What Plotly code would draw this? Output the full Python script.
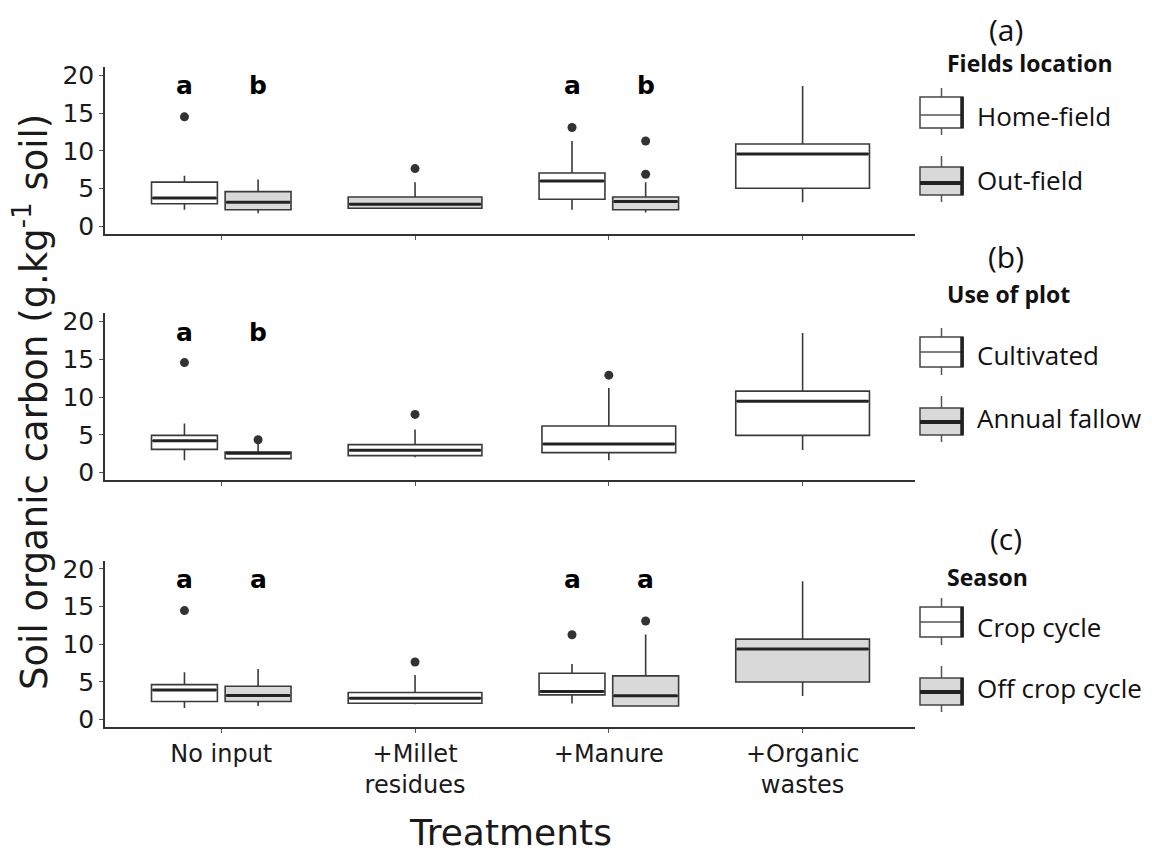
import plotly.graph_objects as go

# ---------------- data ----------------
categories = ["No input", "+Millet<br>residues", "+Manure", "+Organic<br>wastes"]
y_ticks = [0, 5, 10, 15, 20]

# Panel (a): Fields location
a_cat = [0, 0, 1, 2, 2, 3]
a_group = ["Home-field", "Out-field", "All", "Home-field", "Out-field", "All"]
a_low = [2.2, 1.75, 2.3, 2.2, 1.85, 3.2]
a_q1 = [3.0, 2.2, 2.4, 3.6, 2.2, 5.05]
a_med = [3.75, 3.2, 2.95, 6.0, 3.3, 9.6]
a_q3 = [5.86, 4.6, 3.9, 7.08, 3.9, 10.9]
a_high = [6.7, 6.2, 5.85, 11.3, 5.85, 18.6]
a_out = [[14.5], [], [7.65], [13.1], [6.9, 11.3], []]
a_letters = ["a", "b", "", "a", "b", ""]

# Panel (b): Use of plot
b_cat = [0, 0, 1, 2, 3]
b_group = ["Cultivated", "Annual fallow", "All", "All", "All"]
b_low = [1.63, 1.85, 2.03, 1.63, 3.0]
b_q1 = [3.08, 1.85, 2.25, 2.64, 4.93]
b_med = [4.22, 2.56, 2.95, 3.78, 9.46]
b_q3 = [4.93, 2.72, 3.7, 6.16, 10.78]
b_high = [6.5, 3.9, 5.7, 11.2, 18.47]
b_out = [[14.56], [4.35], [7.7], [12.9], []]
b_letters = ["a", "b", "", "", ""]

# Panel (c): Season
c_cat = [0, 0, 1, 2, 2, 3]
c_group = ["Crop cycle", "Off crop cycle", "All", "Crop cycle", "Off crop cycle", "All"]
c_low = [1.54, 1.8, 2.03, 2.12, 1.8, 3.13]
c_q1 = [2.38, 2.38, 2.16, 3.27, 1.8, 4.98]
c_med = [3.92, 3.18, 2.83, 3.71, 3.14, 9.35]
c_q3 = [4.63, 4.41, 3.58, 6.14, 5.79, 10.67]
c_high = [6.26, 6.7, 5.9, 7.38, 11.3, 18.36]
c_out = [[14.47], [], [7.63], [11.26], [13.09], []]
c_letters = ["a", "a", "", "a", "a", ""]

panel_tags = ["(a)", "(b)", "(c)"]
legend_titles = ["Fields location", "Use of plot", "Season"]
legend_items = [["Home-field", "Out-field"], ["Cultivated", "Annual fallow"], ["Crop cycle", "Off crop cycle"]]

# ---------------- styles ----------------
WHITE = "white"
GREY = "#d9d9d9"
LINE = "#3a3a3a"
a_fill = [WHITE, GREY, GREY, WHITE, GREY, WHITE]
b_fill = [WHITE, WHITE, WHITE, WHITE, WHITE]
c_fill = [WHITE, GREY, WHITE, WHITE, GREY, GREY]

BODY = 8  # default page margin of the html body
W, H = 1152 - BODY, 854 - BODY
ML, MT = 105 - BODY, 67 - BODY
PW, PH = 810, 660
MR, MB = W - ML - PW, H - MT - PH


def px(x, y):
    """page pixel -> paper coordinates"""
    return (x - BODY - ML) / PW, 1 - (y - BODY - MT) / PH


group_offset = {"first": -0.19, "second": 0.19}
width_grouped, width_single = 0.34, 0.69

panels = [
    (a_cat, a_group, a_low, a_q1, a_med, a_q3, a_high, a_out, a_letters, a_fill),
    (b_cat, b_group, b_low, b_q1, b_med, b_q3, b_high, b_out, b_letters, b_fill),
    (c_cat, c_group, c_low, c_q1, c_med, c_q3, c_high, c_out, c_letters, c_fill),
]

fig = go.Figure()
annotations = []
shapes = []

for p, (cat, grp, lo, q1, med, q3, hi, outs, letters, fills) in enumerate(panels):
    xa = "x" if p == 0 else f"x{p+1}"
    ya = "y" if p == 0 else f"y{p+1}"
    items = legend_items[p]
    med_x, med_y, out_x, out_y = [], [], [], []
    for i in range(len(cat)):
        if grp[i] == "All":
            off, w = 0.0, width_single
        else:
            off = group_offset["first"] if grp[i] == items[0] else group_offset["second"]
            w = width_grouped
        pos = cat[i] + off
        fig.add_trace(go.Box(
            x=[pos], q1=[q1[i]], median=[med[i]], q3=[q3[i]],
            lowerfence=[lo[i]], upperfence=[hi[i]],
            width=w, whiskerwidth=0, boxpoints=False,
            fillcolor=fills[i], line=dict(color=LINE, width=1.6),
            xaxis=xa, yaxis=ya, showlegend=False, hoverinfo="skip"))
        med_x += [pos - w / 2 + 0.006, pos + w / 2 - 0.006, None]
        med_y += [med[i], med[i], None]
        for o in outs[i]:
            out_x.append(pos)
            out_y.append(o)
        if letters[i]:
            annotations.append(dict(
                x=pos, y=18.6, xref=xa, yref=ya, text=f"<b>{letters[i]}</b>",
                xanchor="center", yanchor="middle",
                showarrow=False, font=dict(family="DejaVu Sans", size=25, color="black")))
    fig.add_trace(go.Scatter(x=med_x, y=med_y, mode="lines",
                             line=dict(color="#222222", width=3),
                             xaxis=xa, yaxis=ya, showlegend=False, hoverinfo="skip"))
    fig.add_trace(go.Scatter(x=out_x, y=out_y, mode="markers",
                             marker=dict(color="#333333", size=9),
                             xaxis=xa, yaxis=ya, showlegend=False, hoverinfo="skip"))

# axes
domains = [[0.747, 1.0], [0.374, 0.627], [0.0, 0.252]]
axis_common = dict(showline=True, linecolor="#333333", linewidth=1.5, ticks="outside",
                   ticklen=4, tickcolor="#555555", showgrid=False, zeroline=False)
for p in range(3):
    xk = "xaxis" if p == 0 else f"xaxis{p+1}"
    yk = "yaxis" if p == 0 else f"yaxis{p+1}"
    ya = "y" if p == 0 else f"y{p+1}"
    xa = "x" if p == 0 else f"x{p+1}"
    fig.update_layout(**{
        xk: dict(axis_common, domain=[0, 1], anchor=ya, range=[-0.6, 3.58],
                 tickvals=list(range(len(categories))), ticktext=categories,
                 showticklabels=(p == 2),
                 tickfont=dict(family="DejaVu Sans", size=24, color="#1a1a1a")),
        yk: dict(axis_common, domain=domains[p], anchor=xa, range=[-1, 21.1],
                 tickvals=y_ticks, ticktext=[str(t) for t in y_ticks],
                 tickfont=dict(family="DejaVu Sans", size=25, color="#1a1a1a")),
    })

# axis titles
tx, ty = px(31, 402)
annotations.append(dict(x=tx, y=ty, xref="paper", yref="paper", showarrow=False,
                        xanchor="center", yanchor="middle",
                        text="Soil organic carbon (g.kg<sup>-1</sup> soil)", textangle=-90,
                        font=dict(family="DejaVu Sans", size=37, color="#1a1a1a")))
tx, ty = px(510, 832)
annotations.append(dict(x=tx, y=ty, xref="paper", yref="paper", showarrow=False,
                        xanchor="center", yanchor="middle",
                        text="Treatments", font=dict(family="DejaVu Sans", size=36, color="#1a1a1a")))

# legends (drawn)
tag_y = [30, 257, 538]
title_y = [63, 294, 577]
icon_boxes = [[(97, 128, 88, 135, 115), (167, 195, 156, 202, 183)],
              [(337, 367, 328, 375, 352), (408, 435, 396, 442, 422)],
              [(607, 637, 598, 645, 622), (678, 705, 666, 712, 692)]]
text_y = [[116, 180], [355, 418], [627, 688]]
LEG_FONT = "Open Sans"
for p in range(3):
    x0, y0 = px(1006, tag_y[p])
    annotations.append(dict(x=x0, y=y0, xref="paper", yref="paper", showarrow=False,
                            xanchor="center", yanchor="middle",
                            text=panel_tags[p], font=dict(family=LEG_FONT, size=30, color="#111")))
    x0, y0 = px(945, title_y[p])
    annotations.append(dict(x=x0, y=y0, xref="paper", yref="paper", showarrow=False,
                            xanchor="left", yanchor="middle", text=f"<b>{legend_titles[p]}</b>",
                            font=dict(family=LEG_FONT, size=23, color="#111")))
    for k in range(2):
        bt, bb, wt, wb, my = icon_boxes[p][k]
        fill = WHITE if k == 0 else GREY
        xl, xr, xc = 920, 963, 941.5
        a0, a1 = px(xl, bt)
        b0, b1 = px(xr, bb)
        shapes.append(dict(type="rect", xref="paper", yref="paper", x0=a0, x1=b0, y0=b1, y1=a1,
                           fillcolor=fill, line=dict(color="#444", width=1.5)))
        c0, c1 = px(xc, wt)
        shapes.append(dict(type="line", xref="paper", yref="paper", x0=c0, x1=c0, y0=a1, y1=c1,
                           line=dict(color="#555", width=1.5)))
        c0, c2 = px(xc, wb)
        shapes.append(dict(type="line", xref="paper", yref="paper", x0=c0, x1=c0, y0=b1, y1=c2,
                           line=dict(color="#555", width=1.5)))
        m0, mm = px(xl, my)
        m1, _ = px(xr, my)
        shapes.append(dict(type="line", xref="paper", yref="paper", x0=m0, x1=m1, y0=mm, y1=mm,
                           line=dict(color="#555" if k == 0 else "#222", width=1.5 if k == 0 else 4)))
        r0, _ = px(xr - 1, 0)
        shapes.append(dict(type="line", xref="paper", yref="paper", x0=r0, x1=r0, y0=b1, y1=a1,
                           line=dict(color="#222", width=3.5)))
        t0, t1 = px(975, text_y[p][k])
        annotations.append(dict(x=t0, y=t1, xref="paper", yref="paper", showarrow=False,
                                xanchor="left", yanchor="middle", text=legend_items[p][k],
                                font=dict(family=LEG_FONT, size=26, color="#111")))

fig.update_layout(width=W, height=H, margin=dict(l=ML, r=MR, t=MT, b=MB),
                  plot_bgcolor="white", paper_bgcolor="white", showlegend=False,
                  annotations=annotations, shapes=shapes)

fig.write_html("out.html")
